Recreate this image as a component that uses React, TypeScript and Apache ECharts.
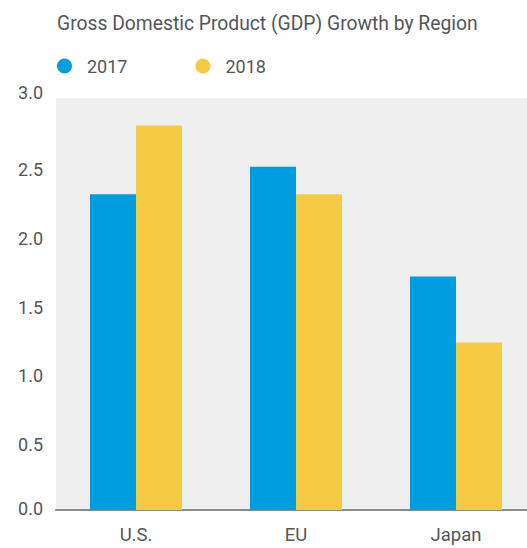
import React, { useEffect, useRef } from "react";
import * as echarts from "echarts";

const categories = ["U.S.", "EU", "Japan"];
const seriesNames = ["2017", "2018"];
const values2017 = [2.3, 2.5, 1.7];
const values2018 = [2.8, 2.3, 1.22];
const titleText = "Gross Domestic Product (GDP) Growth by Region";

const FONT = "Roboto, 'Noto Sans', sans-serif";
const TEXT_COLOR = "#53565a";

export default function App() {
  const ref = useRef<HTMLDivElement>(null);
  useEffect(() => {
    if (!ref.current) return;
    const chart = echarts.init(ref.current, undefined, { renderer: "svg" });
    chart.setOption({
      animation: false,
      backgroundColor: "#ffffff",
      title: {
        text: titleText,
        left: 57,
        top: 14,
        padding: 0,
        textStyle: { fontFamily: FONT, fontSize: 19.3, fontWeight: "normal", color: TEXT_COLOR },
      },
      legend: {
        left: 57,
        top: 57,
        padding: 0,
        icon: "circle",
        itemWidth: 15,
        itemHeight: 15,
        itemGap: 68,
        textStyle: { fontFamily: FONT, fontSize: 18, color: TEXT_COLOR, padding: [0, 0, 0, 10] },
        data: seriesNames,
      },
      grid: { left: 56, right: 0, top: 98, bottom: 38, show: true, backgroundColor: "#efefef", borderWidth: 0 },
      xAxis: {
        type: "category",
        data: categories,
        axisLine: { lineStyle: { color: "#8a8c8e", width: 2 } },
        axisTick: { show: false },
        axisLabel: { fontFamily: FONT, fontSize: 18.5, lineHeight: 18, color: TEXT_COLOR, margin: 16 },
      },
      yAxis: {
        type: "value",
        min: 0,
        max: 3,
        interval: 0.5,
        axisLine: { show: false },
        axisTick: { show: false },
        splitLine: { show: false },
        axisLabel: {
          fontFamily: FONT,
          fontSize: 18,
          color: TEXT_COLOR,
          margin: 13,
          formatter: (v: number) => {
            const s = v.toFixed(1);
            if (v >= 3) return "{t|" + s + "}";
            if (v <= 0) return "{b|" + s + "}";
            return "{a|" + s + "}";
          },
          rich: {
            a: { fontFamily: FONT, fontSize: 18, color: TEXT_COLOR, padding: [6, 0, 0, 0] },
            t: { fontFamily: FONT, fontSize: 18, color: TEXT_COLOR, padding: [0, 0, 12, 0] },
            b: { fontFamily: FONT, fontSize: 18, color: TEXT_COLOR, padding: [0, 0, 4, 0] },
          },
        },
      },
      series: [
        {
          name: seriesNames[0],
          type: "bar",
          data: values2017,
          barGap: "0%",
          barCategoryGap: "42.5%",
          itemStyle: { color: "#009ddf" },
        },
        {
          name: seriesNames[1],
          type: "bar",
          data: values2018,
          barGap: "0%",
          barCategoryGap: "42.5%",
          itemStyle: { color: "#f4cb42" },
        },
      ],
    });
    return () => chart.dispose();
  }, []);
  return (
    <div style={{ position: "absolute", left: 0, top: 0, width: 527, height: 548, overflow: "hidden" }}>
      <div ref={ref} style={{ width: 536, height: 548 }} />
    </div>
  );
}
